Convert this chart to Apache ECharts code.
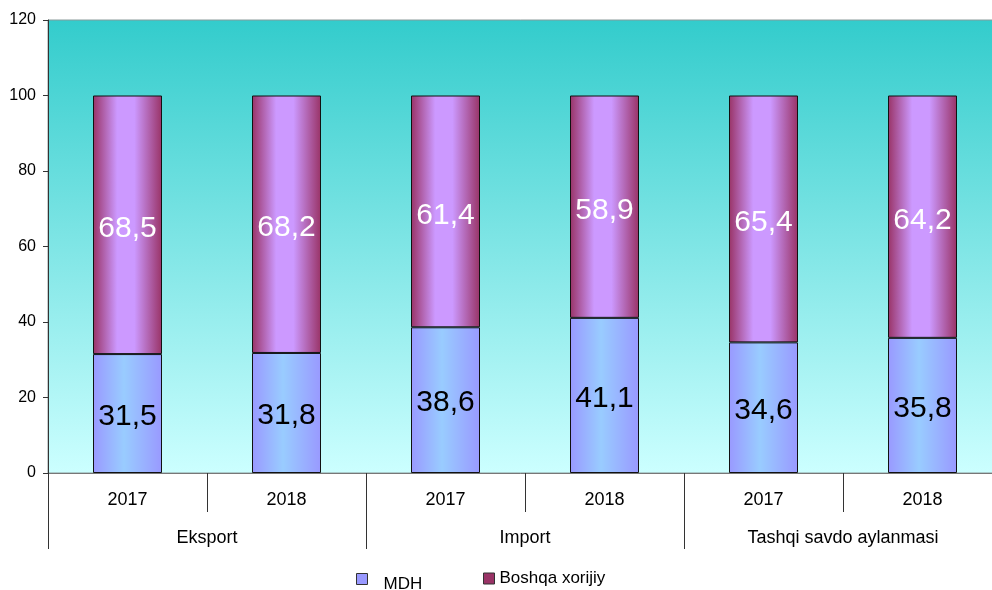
<!DOCTYPE html>
<html>
<head>
<meta charset="utf-8">
<script src="https://cdn.jsdelivr.net/npm/echarts@6/dist/echarts.min.js"></script>
<style>
html,body{margin:0;padding:0;background:#fff;}
#c{width:992px;height:590px;}
</style>
</head>
<body>
<div id="c"></div>
<script>
var years = ['2017', '2018', '2017', '2018', '2017', '2018'];
var groups = ['Eksport', 'Import', 'Tashqi savdo aylanmasi'];
var mdh = [31.5, 31.8, 38.6, 41.1, 34.6, 35.8];
var boshqa = [68.5, 68.2, 61.4, 58.9, 65.4, 64.2];
var seriesNames = ['MDH', 'Boshqa xorijiy'];
var yTicks = { min: 0, max: 120, interval: 20 };

var FONT = 'Liberation Sans, Arial, sans-serif';
function hGrad(stops) {
  return { type: 'linear', x: 0, y: 0, x2: 1, y2: 0, colorStops: stops };
}
function fmt(p) { return String(p.value).replace('.', ','); }

var chart = echarts.init(document.getElementById('c'), null, { renderer: 'canvas' });
chart.setOption({
  animation: false,
  grid: {
    left: 48, top: 20, height: 453, width: 954,
    outerBoundsMode: 'none',
    containLabel: false,
    show: true,
    borderColor: '#8a9a9a', borderWidth: 1,
    backgroundColor: { type: 'linear', x: 0, y: 0, x2: 0, y2: 1,
      colorStops: [{ offset: 0, color: '#33CCCC' }, { offset: 1, color: '#CCFFFF' }] }
  },
  legend: [{
    left: 356, top: 565, padding: 0, itemWidth: 11, itemHeight: 11, icon: 'rect',
    data: [{ name: seriesNames[0], itemStyle: { color: '#9999FF', borderColor: '#333', borderWidth: 1 } }],
    formatter: function (n) { return '{m|' + n + '}'; },
    textStyle: {
      fontFamily: FONT, fontSize: 17, color: '#000',
      rich: { m: { fontFamily: FONT, fontSize: 17, lineHeight: 17, color: '#000', padding: [11, 0, 0, 11] } }
    }
  }, {
    left: 483, top: 570, padding: 0, itemWidth: 11, itemHeight: 11, icon: 'rect',
    data: [{ name: seriesNames[1], itemStyle: { color: '#993366', borderColor: '#333', borderWidth: 1 } }],
    textStyle: { fontFamily: FONT, fontSize: 17, lineHeight: 17, color: '#000' }
  }],
  xAxis: [{
    type: 'category', data: years, position: 'bottom',
    axisLine: { show: true, lineStyle: { color: '#777', width: 1 } },
    axisTick: { show: true, length: 39, interval: 0, lineStyle: { color: '#333' } },
    axisLabel: { interval: 0, margin: 18, fontFamily: FONT, fontSize: 18, color: '#000' },
    splitLine: { show: false }
  }, {
    type: 'category', data: groups, position: 'bottom',
    axisLine: { show: false },
    axisTick: { show: true, length: 76, interval: 0, lineStyle: { color: '#333' } },
    axisLabel: { interval: 0, margin: 56, fontFamily: FONT, fontSize: 18, color: '#000' },
    splitLine: { show: false }
  }],
  yAxis: {
    type: 'value', min: yTicks.min, max: yTicks.max, interval: yTicks.interval,
    axisLine: { show: true, lineStyle: { color: '#333', width: 1 } },
    axisTick: { show: true, length: 5, lineStyle: { color: '#333' } },
    axisLabel: { margin: 12, fontFamily: FONT, fontSize: 16, color: '#000' },
    splitLine: { show: false }
  },
  series: [{
    name: seriesNames[0], type: 'bar', stack: 's', data: mdh, barWidth: 69,
    itemStyle: {
      color: hGrad([{ offset: 0, color: '#9999FF' }, { offset: 0.45, color: '#99CCFF' }, { offset: 1, color: '#9999FF' }]),
      borderColor: '#111', borderWidth: 1
    },
    label: { show: true, position: 'inside', offset: [0, 3], formatter: fmt, fontFamily: FONT, fontSize: 30, color: '#000' }
  }, {
    name: seriesNames[1], type: 'bar', stack: 's', data: boshqa, barWidth: 69,
    itemStyle: {
      color: hGrad([{ offset: 0, color: '#993366' }, { offset: 0.35, color: '#CC99FF' }, { offset: 0.6, color: '#CC99FF' }, { offset: 1, color: '#993366' }]),
      borderColor: '#111', borderWidth: 1
    },
    label: { show: true, position: 'inside', offset: [0, 4], formatter: fmt, fontFamily: FONT, fontSize: 30, color: '#fff' }
  }]
});
</script>
</body>
</html>
